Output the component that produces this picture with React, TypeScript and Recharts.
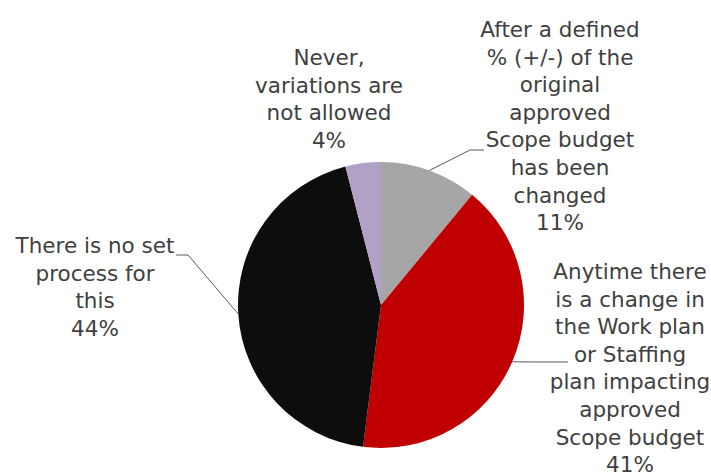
import { Pie, PieChart, Cell } from "recharts";

const categories = [
  "After a defined % (+/-) of the original approved Scope budget has been changed",
  "Anytime there is a change in the Work plan or Staffing plan impacting approved Scope budget",
  "There is no set process for this",
  "Never, variations are not allowed",
];
const shares = [11, 41, 44, 4];
const labelLines = [
  ["After a defined", "% (+/-) of the", "original", "approved", "Scope budget", "has been", "changed"],
  ["Anytime there", "is a change in", "the Work plan", "or Staffing", "plan impacting", "approved", "Scope budget"],
  ["There is no set", "process for", "this"],
  ["Never,", "variations are", "not allowed"],
];
const colors = ["#A6A6A6", "#C00000", "#0D0D0D", "#B2A1C7"];

const data = categories.map((name, i) => ({ name, value: shares[i] }));

// label text block centre x and first line y, plus leader line elbow/end
const labelLayout = [
  { x: 560, y: 37, elbow: [470, 150], end: [484, 150] },
  { x: 630, y: 279, elbow: [540, 362], end: [568, 362] },
  { x: 95, y: 253, elbow: [188, 255], end: [176, 255] },
  { x: 329, y: 65, elbow: null, end: null },
];

const LINE_H = 27.6;
const RAD = Math.PI / 180;

function renderLabel(props: any) {
  const { cx, cy, midAngle, outerRadius, index, value } = props;
  const lay = labelLayout[index];
  const sx = cx + outerRadius * Math.cos(-midAngle * RAD);
  const sy = cy + outerRadius * Math.sin(-midAngle * RAD);
  const lines = [...labelLines[index], `${value}%`];
  return (
    <g key={`lbl-${index}`}>
      {lay.elbow && lay.end ? (
        <polyline
          points={`${sx},${sy} ${lay.elbow[0]},${lay.elbow[1]} ${lay.end[0]},${lay.end[1]}`}
          fill="none"
          stroke="#595959"
          strokeWidth={1}
        />
      ) : null}
      <text
        x={lay.x}
        y={lay.y}
        textAnchor="middle"
        fill="#404040"
        fontSize={21.5}
        fontFamily="'DejaVu Sans', sans-serif"
      >
        {lines.map((l, i) => (
          <tspan key={i} x={lay.x} y={lay.y + i * LINE_H}>
            {l}
          </tspan>
        ))}
      </text>
    </g>
  );
}

export default function App() {
  return (
    <div style={{ position: "absolute", left: 0, top: 0, width: 711, height: 475, background: "#fff" }}>
      <PieChart width={711} height={475} margin={{ top: 0, right: 0, bottom: 0, left: 0 }}>
        <Pie
          data={data}
          dataKey="value"
          nameKey="name"
          cx={381}
          cy={305}
          outerRadius={143}
          startAngle={90}
          endAngle={-270}
          stroke="none"
          label={renderLabel}
          labelLine={false}
          isAnimationActive={false}
        >
          {data.map((d, i) => (
            <Cell key={d.name} fill={colors[i]} />
          ))}
        </Pie>
      </PieChart>
    </div>
  );
}
